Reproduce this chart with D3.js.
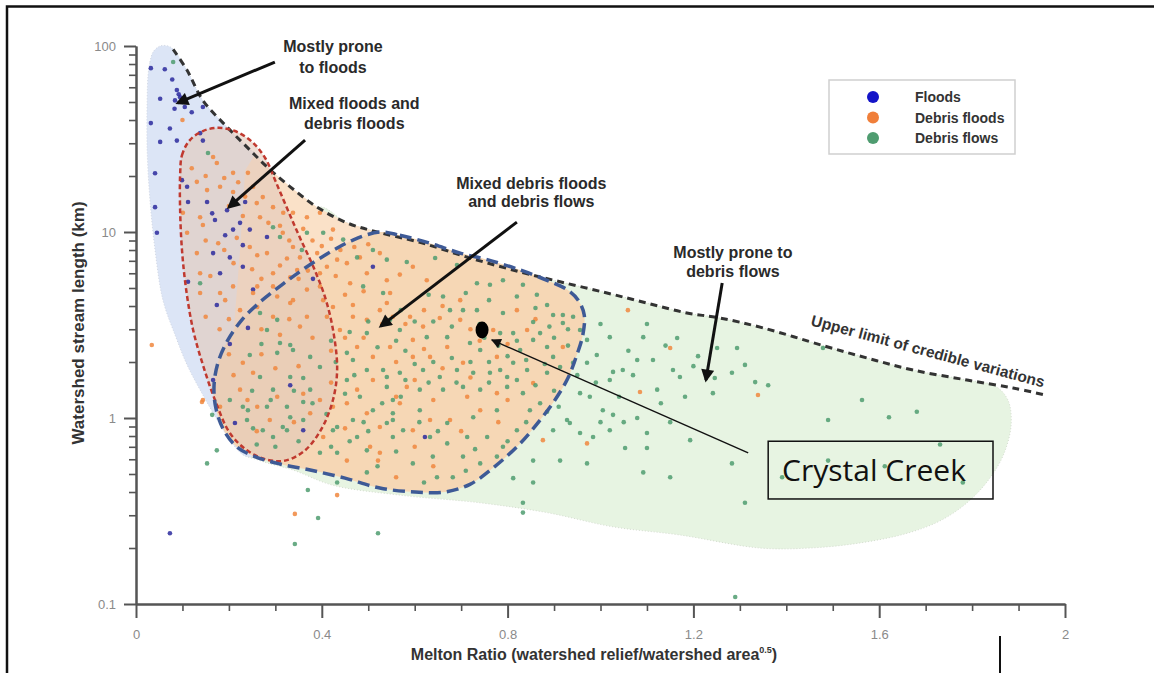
<!DOCTYPE html>
<html>
<head>
<meta charset="utf-8">
<script src="https://cdn.jsdelivr.net/npm/d3@7"></script>
<style>
  body { margin: 0; background: #fff; }
  svg { display: block; font-family: "Liberation Sans", Arial, sans-serif; }
</style>
</head>
<body>
<svg id="chart"></svg>
<script>
// data: [Melton ratio, stream length km]
var floods = [
  [0.032,76],[0.062,75],[0.078,66],[0.088,58],[0.095,53],[0.084,51],[0.052,52],[0.105,47],[0.12,44],[0.144,47],
  [0.092,55],[0.1,50],[0.083,46],[0.032,38.5],[0.073,36],[0.052,30.5],[0.088,31],[0.138,34],[0.144,31],[0.041,20.7],
  [0.099,19],[0.11,17.5],[0.041,13.6],[0.045,9.9],[0.112,14.5],[0.153,14.5],[0.164,12.6],[0.196,13.1],[0.235,14.5],[0.17,11.6],
  [0.224,11.2],[0.209,10.3],[0.245,10.3],[0.282,9.4],[0.166,7.7],[0.202,7.3],[0.23,6.5],[0.112,5.4],[0.174,4.05],[0.252,4.9],
  [0.51,6.5],[0.192,9.6],[0.23,8.5],[0.181,6.0],[0.241,3.05],[0.202,2.5],[0.166,1.6],[0.332,1.5],[0.381,5.6],[0.213,0.94],
  [0.36,0.86],[0.622,0.79],[0.073,0.24]
];
var debrisFloods = [
  [0.10,40],[0.166,25.3],[0.174,23.5],[0.131,18.6],[0.153,16.8],[0.181,17.5],[0.209,16.4],[0.209,20.8],[0.241,20.8],[0.252,17.5],
  [0.273,15.4],[0.295,13.6],[0.317,12.7],[0.338,12.7],[0.368,12.0],[0.396,12.7],[0.424,10.3],[0.267,12.0],[0.245,8.3],[0.282,7.7],
  [0.316,9.9],[0.338,8.3],[0.353,7.3],[0.39,7.7],[0.411,6.5],[0.454,6.8],[0.482,7.3],[0.525,7.7],[0.497,6.0],[0.461,5.3],
  [0.396,5.1],[0.332,5.7],[0.295,5.1],[0.252,4.7],[0.209,5.1],[0.181,4.7],[0.138,4.7],[0.138,6.0],[0.131,7.7],[0.11,9.9],
  [0.101,12.7],[0.138,12.0],[0.261,3.95],[0.295,3.5],[0.338,4.3],[0.424,3.95],[0.467,3.5],[0.547,4.7],[0.553,3.5],[0.353,3.1],
  [0.144,10.9],[0.177,8.7],[0.217,9.3],[0.261,7.5],[0.325,7.2],[0.347,6.25],[0.295,6.0],[0.261,5.1],[0.192,4.3],[0.224,3.8],
  [0.304,4.5],[0.332,4.15],[0.368,4.9],[0.396,6.0],[0.433,7.1],[0.403,4.3],[0.368,3.5],[0.411,3.5],[0.467,4.05],[0.497,3.37],
  [0.525,3.8],[0.439,2.97],[0.476,2.41],[0.51,2.13],[0.547,2.41],[0.23,1.98],[0.252,1.75],[0.224,1.42],[0.261,1.15],[0.304,1.3],
  [0.396,1.25],[0.424,1.15],[0.454,1.2],[0.476,1.42],[0.144,1.25],[0.181,1.15],[0.288,0.975],[0.375,1.06],[0.497,1.06],[0.525,0.895],
  [0.403,0.79],[0.525,0.65],[0.454,0.59],[0.54,5.5],[0.568,5.9],[0.596,6.5],[0.626,5.5],[0.54,4.15],[0.59,3.5],[0.618,3.1],
  [0.654,3.45],[0.698,4.3],[0.698,3.37],[0.596,2.63],[0.56,2.0],[0.633,2.13],[0.67,2.41],[0.704,1.98],[0.769,2.97],[0.777,2.13],
  [0.842,2.97],[0.82,3.8],[0.855,1.54],[0.713,1.3],[0.741,1.1],[0.633,0.975],[0.676,0.975],[0.596,0.86],[0.568,1.2],[0.777,1.36],
  [0.919,2.41],[0.876,0.76],[0.971,0.73],[0.583,1.47],[0.596,2.13],[1.085,1.38],[1.15,2.38],[1.059,3.8],[0.034,2.47],[0.142,1.22],
  [0.342,0.305],[0.433,0.385],[0.504,0.70],[0.521,0.59],[1.339,1.33],
  [0.12,22],[0.15,20],[0.19,19.5],[0.22,18.5],[0.235,15.5],[0.26,14.3],[0.2,13.8],[0.23,12.2],[0.285,11.2],[0.31,10.8],
  [0.33,9.0],[0.36,10.4],[0.38,9.0],[0.4,8.4],[0.42,9.2],[0.44,8.0],[0.47,8.3],[0.5,8.6],[0.15,9.0],[0.19,8.0],
  [0.21,6.8],[0.25,6.3],[0.27,5.6],[0.31,6.6],[0.35,5.6],[0.37,6.2],[0.43,5.8],[0.45,4.6],[0.49,4.8],[0.16,5.8],
  [0.15,3.5],[0.18,3.0],[0.2,3.4],[0.27,3.0],[0.31,2.8],[0.33,3.4],[0.38,2.7],[0.42,2.3],[0.45,2.7],[0.49,2.7],
  [0.53,3.2],[0.58,3.2],[0.62,3.8],[0.66,4.0],[0.72,3.0],[0.74,2.6],[0.8,2.5],[0.86,3.4],[0.62,2.35],[0.66,1.85],
  [0.6,1.6],[0.72,1.65],[0.8,1.25],[0.27,2.2],[0.3,1.85],[0.35,1.9],[0.21,1.7],[0.2,2.2],[0.36,1.35],[0.42,1.55],
  [0.51,1.6],[0.56,1.3],[0.64,1.25],[0.26,0.85],[0.24,1.25],[0.34,0.95],[0.45,0.88],[0.6,0.7],[0.7,0.85],[0.78,0.95],
  [0.64,0.55],[0.56,0.48]
];
var debrisFlows = [
  [0.08,82],[0.155,26.6],[0.295,10.6],[0.368,9.9],[0.138,5.3],
  [0.153,0.57],[0.164,1.04],[0.245,2.18],[0.241,1.10],[0.252,0.88],[0.273,0.86],[0.295,0.79],[0.325,0.86],[0.332,1.01],[0.36,1.22],
  [0.375,1.42],[0.295,1.42],[0.304,2.24],[0.332,2.47],[0.36,1.64],[0.396,1.88],[0.454,1.60],[0.482,1.30],[0.51,1.10],[0.54,0.94],
  [0.553,0.79],[0.497,0.51],[0.424,0.86],[0.37,0.41],[0.392,0.29],[0.342,0.21],[0.521,0.24],[0.433,0.45],[0.467,2.05],[0.532,1.81],
  [0.31,9.4],[0.357,8.0],[0.403,9.9],[0.446,9.1],[0.476,7.3],[0.51,8.0],[0.54,7.1],[0.489,5.1],[0.532,4.7],[0.547,3.37],
  [0.497,2.86],[0.454,2.24],[0.497,1.81],[0.54,1.66],[0.553,1.25],[0.467,0.975],[0.433,0.895],[0.476,0.79],[0.497,0.67],[0.433,0.65],
  [0.396,0.65],[0.553,0.975],[0.267,3.67],[0.304,3.37],[0.282,2.97],[0.31,2.53],[0.338,2.32],[0.375,2.13],[0.267,1.66],[0.332,1.66],
  [0.282,1.15],[0.325,1.15],[0.36,0.975],[0.316,0.895],[0.239,0.975],[0.202,1.25],[0.174,0.67],
  [0.583,6.9],[0.644,7.25],[0.691,6.65],[0.734,5.3],[0.762,5.2],[0.79,5.5],[0.833,5.2],[0.863,4.6],[0.885,4.05],[0.898,3.58],
  [0.919,3.58],[0.919,3.24],[0.941,3.5],[0.79,3.67],[0.855,3.28],[0.812,2.86],[0.784,2.86],[0.704,3.8],[0.661,4.5],[0.676,3.8],
  [0.734,3.8],[0.568,2.97],[0.626,2.72],[0.67,2.72],[0.719,2.53],[0.741,2.32],[0.827,2.32],[0.855,2.63],[0.87,2.86],[0.885,2.41],
  [0.812,1.98],[0.784,1.81],[0.762,1.75],[0.799,1.66],[0.842,1.81],[0.885,1.75],[0.898,2.13],[0.913,1.88],[0.726,1.75],[0.691,1.81],
  [0.654,1.66],[0.618,1.81],[0.568,1.75],[0.54,1.47],[0.611,1.42],[0.661,1.42],[0.704,1.47],[0.741,1.42],[0.799,1.47],[0.833,1.36],
  [0.87,1.2],[0.885,1.08],[0.848,1.10],[0.777,1.10],[0.726,1.01],[0.67,0.94],[0.611,1.10],[0.553,1.06],[0.575,0.86],[0.633,0.79],
  [0.67,0.73],[0.713,0.79],[0.756,0.79],[0.79,0.70],[0.82,0.86],[0.704,0.62],[0.639,0.62],[0.596,0.57],[0.741,0.57],[0.682,0.48],
  [0.648,0.48],[0.777,0.62],
  [0.956,2.97],[0.971,2.63],[0.941,1.98],[0.971,1.98],[0.956,1.36],[0.977,1.30],[0.898,0.86],[0.934,0.94],[0.956,0.83],[0.984,0.79],
  [0.855,0.59],[0.913,0.59],[0.812,0.475],[0.855,0.45],[1.02,2.72],[1.092,2.72],[1.165,2.69],[0.992,2.18],[1.027,1.77],[1.02,1.60],
  [1.048,1.81],[1.079,2.05],[1.113,2.05],[1.07,1.70],[1.122,1.42],[1.156,1.81],[1.171,1.66],[1.182,1.30],[1.251,2.38],[1.294,2.38],
  [1.311,1.93],[1.283,1.75],[1.246,1.64],[1.242,1.36],[1.333,1.56],[1.361,1.50],[1.005,1.10],[1.027,1.04],[1.079,1.0],[1.10,0.83],
  [1.02,0.86],[0.928,0.975],[0.971,0.57],[1.053,0.69],[1.10,0.69],[1.193,0.76],[1.092,0.51],[1.15,0.48],[1.283,0.57],[0.833,0.35],
  [0.833,0.31],[1.311,0.35],[1.29,0.109],[1.479,2.38],[1.563,1.25],[1.49,0.975],[1.621,1.01],[1.681,1.08],[1.731,0.72],[1.49,0.59],
  [1.612,0.55],[1.78,0.45],[1.391,0.48],
  [0.27,2.5],[0.25,1.4],[0.23,1.15],[0.29,1.25],[0.34,1.4],[0.38,1.2],[0.41,1.05],[0.3,0.7],[0.26,0.72],[0.35,0.75],
  [0.42,0.7],[0.46,0.75],[0.5,0.85],[0.53,1.2],[0.57,1.3],[0.6,1.95],[0.64,2.0],[0.68,2.1],[0.72,2.0],[0.76,2.0],
  [0.8,2.15],[0.84,2.05],[0.88,1.95],[0.75,2.7],[0.78,2.45],[0.82,2.6],[0.9,2.7],[0.93,2.45],[0.68,3.1],[0.64,3.3],
  [0.6,3.3],[0.57,3.8],[0.63,4.6],[0.71,4.7],[0.76,4.3],[0.82,4.5],[0.86,3.9],[0.89,3.1],[0.93,3.0],[0.74,3.2],
  [0.69,1.55],[0.63,1.55],[0.58,1.6],[0.76,1.55],[0.82,1.6],[0.86,1.5],[0.9,1.4],[0.91,1.15],[0.84,0.95],[0.8,0.75],
  [0.73,0.68],[0.65,0.85],[0.61,0.95],[0.56,0.66],[0.62,0.45],[0.71,0.52],[0.52,0.55],[0.49,0.95],[0.45,1.35],[0.47,1.7],
  [0.43,2.0],[0.42,2.6],[0.46,2.9],[0.5,3.3],[0.56,2.6],[0.58,2.3],[0.52,2.4],[0.99,1.55],[1.04,1.3],[1.06,2.3],
  [1.13,1.2],[1.2,1.9],[1.21,2.15],[1.14,2.45],[1.0,0.95],[1.05,0.95],[1.15,0.95],[0.95,1.7],[1.0,3.2],[1.1,3.2]
];

// envelope outlines
var upperLimit = [
  [0.08,96],[0.11,74],[0.144,51],[0.196,36.7],[0.239,28.6],[0.282,22.4],[0.332,17.5],[0.39,13.6],[0.454,11.2],[0.519,10.0],
  [0.611,8.8],[0.719,7.25],[0.827,6.1],[0.913,5.4],[1.014,4.7],[1.1,4.15],[1.186,3.67],[1.257,3.45],[1.35,3.05],[1.479,2.45],
  [1.574,2.1],[1.673,1.81],[1.789,1.6],[1.888,1.45],[1.957,1.33]
];
var floodsCap = [[0.026,70],[0.030,82],[0.037,93],[0.052,100],[0.069,100],[0.08,96]];
var floodsInner = [[0.263,25.3],[0.31,8.0],[0.288,1.25],[0.256,0.63],[0.235,0.625],[0.209,0.72],[0.181,0.92],[0.144,1.33],
  [0.110,1.93],[0.084,2.8],[0.058,4.3],[0.041,8.0],[0.030,14.9],[0.024,27.6],[0.024,51]];
var mixedFloodsOutline = [
  [0.095,20.2],[0.099,25.9],[0.116,31.2],[0.144,34.9],[0.177,36.3],[0.213,34.9],[0.25,30.5],[0.278,25.0],[0.301,18.6],[0.327,13.1],
  [0.353,9.3],[0.383,6.4],[0.409,4.3],[0.426,2.8],[0.433,1.81],[0.424,1.25],[0.40,0.88],[0.364,0.67],[0.321,0.59],[0.278,0.60],
  [0.239,0.67],[0.202,0.83],[0.17,1.25],[0.144,1.93],[0.123,2.97],[0.108,4.9],[0.099,8.0],[0.095,13.1]
];
var mixedDebrisOutline = [
  [0.525,10.0],[0.568,9.6],[0.633,8.7],[0.698,7.7],[0.756,7.1],[0.827,6.25],[0.885,5.5],[0.928,4.9],[0.952,4.3],[0.965,3.58],
  [0.962,2.8],[0.949,2.18],[0.93,1.64],[0.902,1.25],[0.87,0.975],[0.827,0.73],[0.773,0.55],[0.719,0.44],[0.665,0.40],[0.601,0.40],
  [0.525,0.42],[0.45,0.475],[0.375,0.525],[0.31,0.566],[0.256,0.62],[0.217,0.70],[0.189,0.86],[0.172,1.13],[0.168,1.50],[0.177,2.0],
  [0.198,2.63],[0.228,3.37],[0.267,4.2],[0.314,5.2],[0.364,6.4],[0.418,7.8],[0.467,9.05]
];
var debrisFloodsInner = [[0.568,9.4],[0.676,4.3],[0.676,0.975],[0.461,0.59],[0.267,0.76],[0.202,1.6],[0.224,8.0],[0.235,21.5],[0.256,26]];
var flowsLower = [
  [1.849,1.49],[1.877,1.25],[1.884,0.92],[1.867,0.63],[1.834,0.46],[1.789,0.35],[1.731,0.28],[1.66,0.24],[1.559,0.213],[1.451,0.20],
  [1.343,0.20],[1.171,0.235],[1.027,0.26],[0.885,0.31],[0.741,0.35],[0.568,0.385],[0.424,0.435],[0.338,0.525],[0.267,0.59],[0.224,0.67],
  [0.245,4.3]
];

var crystalCreek = [0.745, 2.97];

var seriesNames = ["Floods", "Debris floods", "Debris flows"];
var xMajor = [0, 0.4, 0.8, 1.2, 1.6, 2];
var yMajor = [0.1, 1, 10, 100];

var notes = [
  { text: "Mostly prone", at: [0.424, 98.8] },
  { text: "to floods", at: [0.424, 77] },
  { text: "Mixed floods and", at: [0.47, 48.8] },
  { text: "debris floods", at: [0.47, 38.1] },
  { text: "Mixed debris floods", at: [0.851, 18.3] },
  { text: "and debris flows", at: [0.851, 14.5] },
  { text: "Mostly prone to", at: [1.285, 7.8] },
  { text: "debris flows", at: [1.285, 6.1] }
];
var arrows = [
  [[0.299, 82], [0.090, 49.4]],
  [[0.364, 31.2], [0.200, 13.6]],
  [[0.820, 11.3], [0.527, 3.12]],
  [[1.262, 5.32], [1.227, 1.60]]
];

var svgWidth = 1154;
var svgHeight = 673;

var svg = d3.select("#chart")
  .attr("width", svgWidth)
  .attr("height", svgHeight);

var x = d3.scaleLinear().domain([0, 2]).range([136, 1065]);
var y = d3.scaleLog().domain([0.1, 100]).range([604, 46]);

var smoothClosed = d3.line().x(d => x(d[0])).y(d => y(d[1])).curve(d3.curveCatmullRomClosed.alpha(0.5));
var smoothOpen = d3.line().x(d => x(d[0])).y(d => y(d[1])).curve(d3.curveCatmullRom.alpha(0.5));
var straightClosed = d3.line().x(d => x(d[0])).y(d => y(d[1])).curve(d3.curveLinearClosed);

var defs = svg.append("defs");
defs.append("marker").attr("id", "head")
  .attr("viewBox", "0 0 10 10").attr("refX", 8).attr("refY", 5)
  .attr("markerUnits", "userSpaceOnUse").attr("markerWidth", 15).attr("markerHeight", 13)
  .attr("orient", "auto")
  .append("path").attr("d", "M0,0 L10,5 L0,10 z").attr("fill", "#111");
defs.append("marker").attr("id", "thinHead")
  .attr("viewBox", "0 0 10 10").attr("refX", 9).attr("refY", 5)
  .attr("markerUnits", "userSpaceOnUse").attr("markerWidth", 12).attr("markerHeight", 10)
  .attr("orient", "auto")
  .append("path").attr("d", "M0,0 L10,5 L0,10 z").attr("fill", "#111");

// envelopes
var flowsArea = upperLimit.slice(7, 23).concat(flowsLower);
svg.append("path").attr("d", smoothClosed(flowsArea))
  .attr("fill", "#e7f4e2").attr("stroke", "#d4dccf").attr("stroke-dasharray", "1,2");

var floodsArea = floodsCap.concat(upperLimit.slice(1, 5), floodsInner);
svg.append("path").attr("d", smoothClosed(floodsArea))
  .attr("fill", "#dce5f6").attr("stroke", "#d0d6e2").attr("stroke-dasharray", "1,2");

var debrisFloodsArea = upperLimit.slice(4, 10).concat(debrisFloodsInner);
svg.append("path").attr("d", straightClosed(debrisFloodsArea)).attr("fill", "#fae1c8");

svg.append("path").attr("d", smoothClosed(mixedDebrisOutline)).attr("fill", "#f6d7b5");
svg.append("path").attr("d", smoothClosed(mixedFloodsOutline)).attr("fill", "rgba(226,200,185,0.6)");

// points
var series = [
  { data: floods, color: "#2b2a9e" },
  { data: debrisFloods, color: "#f0873e" },
  { data: debrisFlows, color: "#4f9c70" }
];
series.forEach(function(s) {
  svg.append("g").selectAll("circle")
    .data(s.data)
    .enter()
    .append("circle")
    .attr("cx", d => x(d[0]))
    .attr("cy", d => y(d[1]))
    .attr("r", 2.3)
    .attr("fill", s.color)
    .attr("opacity", 0.85);
});

// outlines
svg.append("path").attr("d", smoothOpen(upperLimit))
  .attr("fill", "none").attr("stroke", "#333").attr("stroke-width", 3).attr("stroke-dasharray", "7,5");
svg.append("path").attr("d", smoothClosed(mixedFloodsOutline))
  .attr("fill", "none").attr("stroke", "#c0392f").attr("stroke-width", 2.5).attr("stroke-dasharray", "5,3");
svg.append("path").attr("d", smoothClosed(mixedDebrisOutline))
  .attr("fill", "none").attr("stroke", "#3e5a96").attr("stroke-width", 3.5).attr("stroke-dasharray", "12,6");

// axes
svg.append("g").attr("transform", "translate(0,604)")
  .call(d3.axisBottom(x).tickValues(xMajor).tickSize(14).tickSizeOuter(0).tickPadding(12)
    .tickFormat(d => d === 0 ? "0" : d3.format("~g")(d)));
svg.append("g").attr("transform", "translate(0,604)").attr("class", "minor")
  .call(d3.axisBottom(x).tickValues(d3.range(1, 20).filter(i => i % 4 !== 0).map(i => i / 10))
    .tickSize(7).tickSizeOuter(0).tickFormat(""));

svg.append("g").attr("transform", "translate(136,0)")
  .call(d3.axisLeft(y).tickValues(yMajor).tickSize(12).tickSizeOuter(0).tickPadding(8)
    .tickFormat(d => String(d)));
var yMinor = [];
[0.1, 1, 10].forEach(function(b) { for (var k = 2; k <= 9; k++) yMinor.push(b * k); });
svg.append("g").attr("transform", "translate(136,0)").attr("class", "minor")
  .call(d3.axisLeft(y).tickValues(yMinor).tickSize(7).tickSizeOuter(0).tickFormat(""));

svg.selectAll(".domain").attr("stroke", "#555").attr("stroke-width", 2);
svg.selectAll(".tick line").attr("stroke", "#555").attr("stroke-width", 2);
svg.selectAll(".minor .tick line").attr("stroke-width", 1.6);
svg.selectAll(".tick text").attr("fill", "#8a8a8a").style("font-size", "13px");

svg.append("text")
  .attr("transform", "translate(78,323) rotate(-90)")
  .attr("text-anchor", "middle").attr("dominant-baseline", "central")
  .style("font-size", "17px").style("font-weight", "bold").attr("fill", "#333")
  .text("Watershed stream length (km)");

var xTitle = svg.append("text")
  .attr("x", 594).attr("y", 660)
  .attr("text-anchor", "middle")
  .style("font-size", "16px").style("font-weight", "bold").attr("fill", "#333");
xTitle.append("tspan").text("Melton Ratio (watershed relief/watershed area");
xTitle.append("tspan").attr("dy", -7).style("font-size", "9px").text("0.5");
xTitle.append("tspan").attr("dy", 7).text(")");

// annotations
svg.selectAll(".note")
  .data(notes)
  .enter()
  .append("text")
  .attr("class", "note")
  .attr("x", d => x(d.at[0]))
  .attr("y", d => y(d.at[1]))
  .attr("text-anchor", "middle").attr("dominant-baseline", "central")
  .style("font-size", "16px").style("font-weight", "bold").attr("fill", "#2a2a2a")
  .text(d => d.text);

svg.selectAll(".arrow")
  .data(arrows)
  .enter()
  .append("line")
  .attr("class", "arrow")
  .attr("x1", d => x(d[0][0])).attr("y1", d => y(d[0][1]))
  .attr("x2", d => x(d[1][0])).attr("y2", d => y(d[1][1]))
  .attr("stroke", "#111").attr("stroke-width", 3)
  .attr("marker-end", "url(#head)");

svg.append("text")
  .attr("transform", "translate(" + x(1.705) + "," + y(2.29) + ") rotate(15)")
  .attr("text-anchor", "middle").attr("dominant-baseline", "central")
  .style("font-size", "15.5px").style("font-weight", "bold").attr("fill", "#333")
  .text("Upper limit of credible variations");

// Crystal Creek
svg.append("ellipse")
  .attr("cx", x(crystalCreek[0])).attr("cy", y(crystalCreek[1]))
  .attr("rx", 6.5).attr("ry", 8.5).attr("fill", "#000");
svg.append("line")
  .attr("x1", x(1.318)).attr("y1", y(0.65))
  .attr("x2", x(0.766)).attr("y2", y(2.63))
  .attr("stroke", "#111").attr("stroke-width", 1.4)
  .attr("marker-end", "url(#thinHead)");
svg.append("rect")
  .attr("x", x(1.361)).attr("y", y(0.75))
  .attr("width", x(1.845) - x(1.361)).attr("height", y(0.367) - y(0.75))
  .attr("fill", "none").attr("stroke", "#111").attr("stroke-width", 1.5);
svg.append("text")
  .attr("x", x(1.391)).attr("y", y(0.458))
  .style("font-family", "'Open Sans', 'Noto Sans', sans-serif")
  .style("font-size", "30px").attr("fill", "#111")
  .text("Crystal Creek");

// legend
var legend = svg.append("g").attr("transform", "translate(829,80)");
legend.append("rect").attr("width", 186).attr("height", 74)
  .attr("fill", "#fff").attr("stroke", "#cfcfcf").attr("stroke-width", 1.5);
var legendColors = ["#1414c8", "#f07f3a", "#4f9c70"];
seriesNames.forEach(function(name, i) {
  legend.append("circle").attr("cx", 44).attr("cy", 17 + i * 20.5).attr("r", 6)
    .attr("fill", legendColors[i]);
  legend.append("text").attr("x", 86).attr("y", 17 + i * 20.5)
    .attr("dominant-baseline", "central")
    .style("font-size", "14px").style("font-weight", "bold").attr("fill", "#333")
    .text(name);
});

// screenshot frame
svg.append("path").attr("d", "M7,673 V6.5 H1154")
  .attr("fill", "none").attr("stroke", "#111").attr("stroke-width", 2.5);
svg.append("line").attr("x1", 1000).attr("x2", 1000).attr("y1", 636).attr("y2", 673)
  .attr("stroke", "#111").attr("stroke-width", 2);
</script>
</body>
</html>
